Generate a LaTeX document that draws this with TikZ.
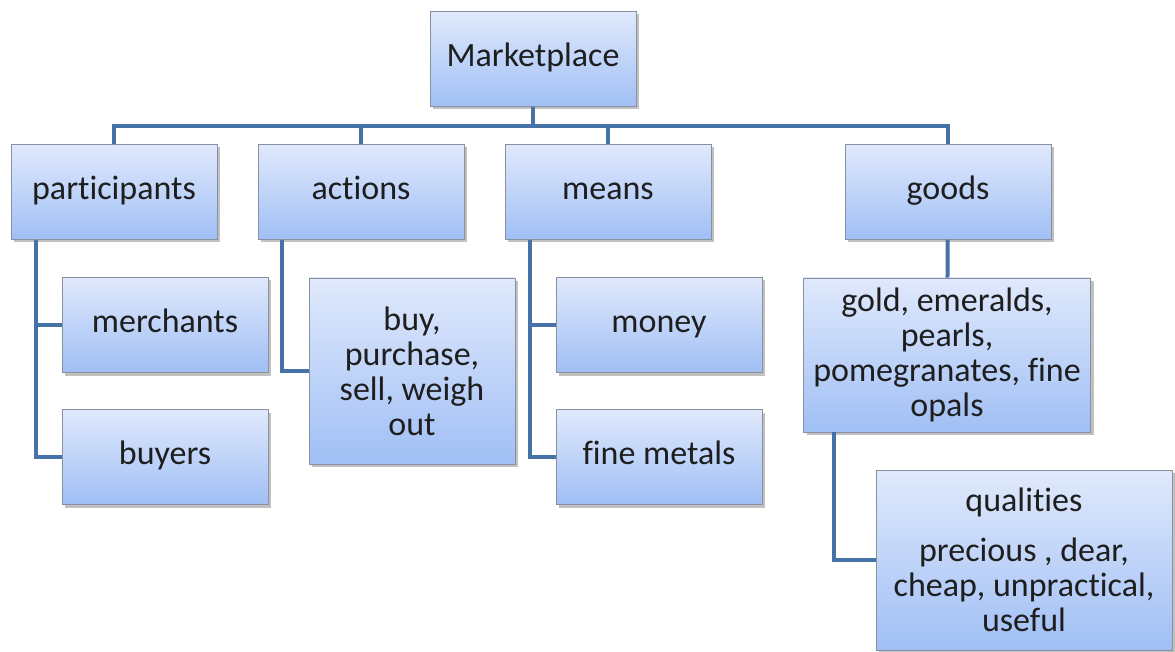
\documentclass[tikz,border=0pt]{standalone}
\usepackage{fontspec}
\setmainfont{Carlito}[Ligatures=NoCommon]
\usetikzlibrary{shadows}
\definecolor{boxtop}{RGB}{224,233,252}
\definecolor{boxbot}{RGB}{160,191,245}
\definecolor{boxline}{RGB}{135,145,160}
\definecolor{linkblue}{RGB}{69,114,167}
\definecolor{txt}{RGB}{30,30,30}
\tikzset{
  box/.style={rectangle,draw=boxline,line width=0.8pt,top color=boxtop,bottom color=boxbot,
    drop shadow={shadow xshift=3pt,shadow yshift=-3pt,opacity=0.35,fill=black!70},
    inner sep=0pt,align=center,text=txt,font=\fontsize{34}{35}\selectfont,
    minimum width=206pt,minimum height=95pt},
  onebox/.style={box,text height=23pt,text depth=8pt},
  link/.style={draw=linkblue,line width=4pt}
}
\begin{document}
\begin{tikzpicture}[x=1pt,y=-1pt]
\useasboundingbox (0,0) rectangle (1175,652);
\coordinate (bar) at (533,126);

\node (mkt) [onebox] at (533,59) {Marketplace};
\node (part) [onebox] at (114,192) {participants};
\node (act) [onebox] at (361,192) {actions};
\node (mean) [onebox] at (608,192) {means};
\node (goods) [onebox] at (948,192) {goods};

\node (merch) [onebox] at (165,325) {merchants};
\node (buyer) [onebox] at (165,457) {buyers};
\node (buy) [box,minimum height=186pt] at (412,371) {buy,\\purchase,\\sell, weigh\\out};
\node (money) [onebox] at (659,325) {money};
\node (metal) [onebox] at (659,457) {fine metals};
\node (gold) [box,minimum width=287pt,minimum height=154pt] at (947,355) {gold, emeralds,\\pearls,\\pomegranates, fine\\opals};
\node (qual) [box,minimum width=296pt,minimum height=180pt] at (1024,560) {qualities\\[15pt]precious , dear,\\cheap, unpractical,\\useful};

% tree links
\draw [link] (mkt) -- (bar);
\draw [link] (part.north) |- (bar) -| (goods.north);
\draw [link] (act.north) -- (act.north |- bar);
\draw [link] (mean.north) -- (mean.north |- bar);

\draw [link] ([xshift=25pt]part.south west) |- (buyer.west);
\draw [link] (merch.west) -- ++(-25,0);
\draw [link] ([xshift=24pt]act.south west) |- (buy.west);
\draw [link] ([xshift=25pt]mean.south west) |- (metal.west);
\draw [link] (money.west) -- ++(-25,0);
\draw [link] (goods) -- (gold);
\draw [link] ([xshift=31pt]gold.south west) |- (qual.west);
\end{tikzpicture}
\end{document}
